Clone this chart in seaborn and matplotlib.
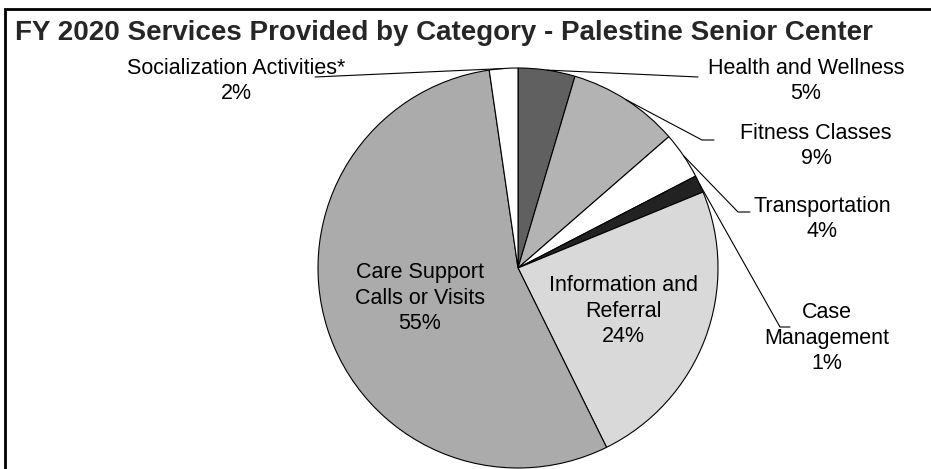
import matplotlib
matplotlib.use("Agg")
import matplotlib.pyplot as plt
import seaborn as sns
import numpy as np
from matplotlib.patches import Rectangle

# values (percent), clockwise from 12 o'clock
categories = ["Health and Wellness", "Fitness Classes", "Transportation", "Case Management",
              "Information and Referral", "Care Support Calls or Visits", "Socialization Activities*"]
shares = [4.6, 9.0, 3.8, 1.4, 23.9, 55.0, 2.3]
pct_labels = ["5%", "9%", "4%", "1%", "24%", "55%", "2%"]
label_text = ["Health and Wellness", "Fitness Classes", "Transportation", "Case\nManagement",
              "Information and\nReferral", "Care Support\nCalls or Visits", "Socialization Activities*"]
slice_colors = ["#606060", "#b3b3b3", "#ffffff", "#222222", "#d9d9d9", "#ababab", "#ffffff"]

sns.set_theme(style="white")
plt.rcParams['font.family'] = ['Liberation Sans', 'DejaVu Sans']

W, H = 931, 469
fig = plt.figure(figsize=(W / 100, H / 100), dpi=100)
ax = fig.add_axes([0, 0, 1, 1])

# pie center / radius in pixels
cx, cy, r = 518, 268, 200

wedges, _ = ax.pie(shares, colors=slice_colors, startangle=90, counterclock=False,
                   wedgeprops=dict(edgecolor="black", linewidth=0.8))
ax.set_xlim((0 - cx) / r, (W - cx) / r)
ax.set_ylim((cy - H) / r, cy / r)
ax.set_aspect("equal")
ax.axis("off")

# label positions (data units, pie radius = 1)
label_pos = [(1.44, 0.935), (1.49, 0.61), (1.52, 0.245), (1.545, -0.35),
             (0.525, -0.215), (-0.49, -0.15), (-1.41, 0.935)]
# leader line ends (None = label sits inside the slice)
leader_end = [[(0.90, 0.955)], [(0.92, 0.64), (0.98, 0.64)], [(1.10, 0.28), (1.16, 0.28)],
              [(1.31, -0.295), (1.36, -0.295)], None, None, [(-1.015, 0.955)]]

for w, txt, pct, pos, lead in zip(wedges, label_text, pct_labels, label_pos, leader_end):
    ax.text(pos[0], pos[1], f"{txt}\n{pct}", ha="center", va="center", fontsize=15.5,
            color="black", linespacing=1.3)
    if lead is not None:
        mid = np.deg2rad((w.theta1 + w.theta2) / 2)
        xs = [np.cos(mid)] + [p[0] for p in lead]
        ys = [np.sin(mid)] + [p[1] for p in lead]
        ax.plot(xs, ys, color="black", lw=0.8)

fig.text(15 / W, 1 - 33 / H, "FY 2020 Services Provided by Category - Palestine Senior Center",
         fontsize=20, fontweight="bold", ha="left", va="center")

# chart frame (cut off at right and bottom like the reference)
fig.patches.append(Rectangle((5 / W, -0.1), 1.2, 1.1 - 9 / H, transform=fig.transFigure,
                             fill=False, edgecolor="black", lw=2))

fig.savefig("out.png", dpi=100)
